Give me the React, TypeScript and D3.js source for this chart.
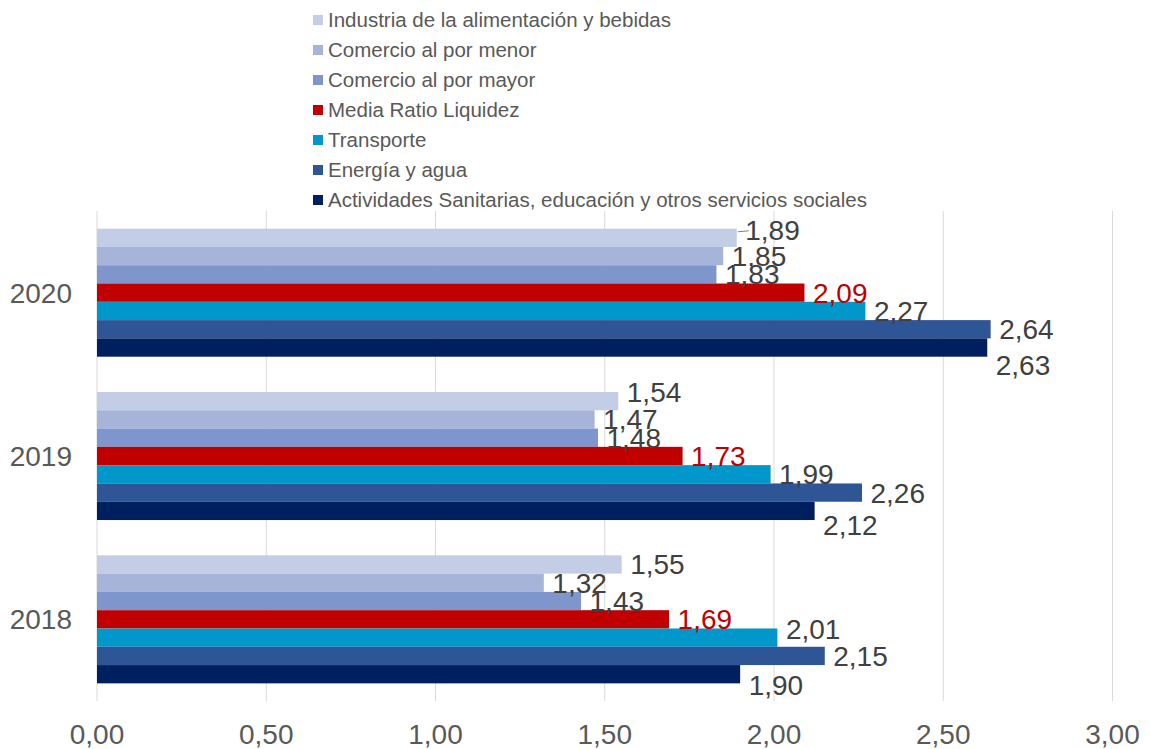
import React from "react";
import * as d3 from "d3";

// Liquidity ratio by sector, 2018–2020
const years = ["2020", "2019", "2018"];

const seriesNames = [
  "Industria de la alimentación y bebidas",
  "Comercio al por menor",
  "Comercio al por mayor",
  "Media Ratio Liquidez",
  "Transporte",
  "Energía y agua",
  "Actividades Sanitarias, educación y otros servicios sociales",
];

const industria = [1.89, 1.54, 1.55];
const comercioMenor = [1.85, 1.47, 1.32];
const comercioMayor = [1.83, 1.48, 1.43];
const mediaRatio = [2.09, 1.73, 1.69];
const transporte = [2.27, 1.99, 2.01];
const energia = [2.64, 2.26, 2.15];
const actividades = [2.63, 2.12, 1.9];

const xTicks = [0, 0.5, 1, 1.5, 2, 2.5, 3];

const seriesValues = [
  industria,
  comercioMenor,
  comercioMayor,
  mediaRatio,
  transporte,
  energia,
  actividades,
];

const colors = [
  "#c3cde6",
  "#a6b4da",
  "#7f96cd",
  "#c00000",
  "#0097cb",
  "#2e5596",
  "#001f5f",
];

// vertical nudges for labels that would collide (series index, year index)
const labelNudge: Record<string, { dy: number; leader?: boolean }> = {
  "0-0": { dy: -8, leader: true },
  "6-0": { dy: 17 },
  "0-1": { dy: -9 },
  "6-1": { dy: 14 },
  "4-2": { dy: -9 },
  "6-2": { dy: 11 },
};

const W = 1150;
const H = 749;
const plot = { left: 97, right: 1112.5, top: 211, bottom: 701 };
const FONT = "'Liberation Sans', Arial, sans-serif";

export default function App() {
  const x = d3.scaleLinear().domain([0, 3]).range([plot.left, plot.right]);
  const y = d3
    .scaleBand<string>()
    .domain(years)
    .range([plot.top, plot.bottom])
    .paddingInner(0.216)
    .paddingOuter(0.108);
  const ySeries = d3
    .scaleBand<number>()
    .domain(d3.range(seriesNames.length))
    .range([0, y.bandwidth()]);
  const fmt = (v: number) => d3.format(".2f")(v).replace(".", ",");

  const legendTop = 20;
  const legendStep = 30;

  return (
    <svg
      width={W}
      height={H}
      style={{ position: "absolute", left: 0, top: 0, background: "#fff" }}
      fontFamily={FONT}
    >
      {/* legend */}
      {seriesNames.map((name, i) => {
        const cy = legendTop + i * legendStep;
        return (
          <g key={name}>
            <rect x={313} y={cy - 5} width={10} height={10} fill={colors[i]} />
            <text x={328} y={cy + 7.4} fontSize={20.5} fill="#595959">
              {name}
            </text>
          </g>
        );
      })}

      {/* vertical gridlines */}
      {xTicks.map((t) => (
        <line
          key={t}
          x1={x(t)}
          x2={x(t)}
          y1={plot.top}
          y2={plot.bottom}
          stroke="#d9d9d9"
          strokeWidth={1}
        />
      ))}

      {/* bars */}
      {years.map((yr, yi) => (
        <g key={yr} transform={`translate(0,${y(yr)})`}>
          {seriesValues.map((vals, si) => (
            <rect
              key={si}
              x={x(0)}
              y={ySeries(si)}
              width={x(vals[yi]) - x(0)}
              height={ySeries.bandwidth()}
              fill={colors[si]}
            />
          ))}
        </g>
      ))}

      {/* value labels */}
      {years.map((yr, yi) => (
        <g key={yr} transform={`translate(0,${y(yr)})`}>
          {seriesValues.map((vals, si) => {
            const nudge = labelNudge[`${si}-${yi}`] || { dy: 0 };
            const end = x(vals[yi]);
            const cy = (ySeries(si) as number) + ySeries.bandwidth() / 2 + nudge.dy;
            return (
              <g key={si}>
                {nudge.leader && (
                  <line
                    x1={end + 1}
                    y1={cy + 2}
                    x2={end + 12}
                    y2={cy + 1}
                    stroke="#808080"
                    strokeWidth={1}
                  />
                )}
                <text
                  x={end + 8.5}
                  y={cy + 10}
                  fontSize={28}
                  fill={si === 3 ? "#c00000" : "#404040"}
                >
                  {fmt(vals[yi])}
                </text>
              </g>
            );
          })}
        </g>
      ))}

      {/* category labels */}
      {years.map((yr) => (
        <text
          key={yr}
          x={72}
          y={(y(yr) as number) + y.bandwidth() / 2 + 10}
          fontSize={28}
          textAnchor="end"
          fill="#595959"
        >
          {yr}
        </text>
      ))}

      {/* x axis tick labels */}
      {xTicks.map((t) => (
        <text
          key={t}
          x={x(t)}
          y={744}
          fontSize={28}
          textAnchor="middle"
          fill="#595959"
        >
          {fmt(t)}
        </text>
      ))}
    </svg>
  );
}
